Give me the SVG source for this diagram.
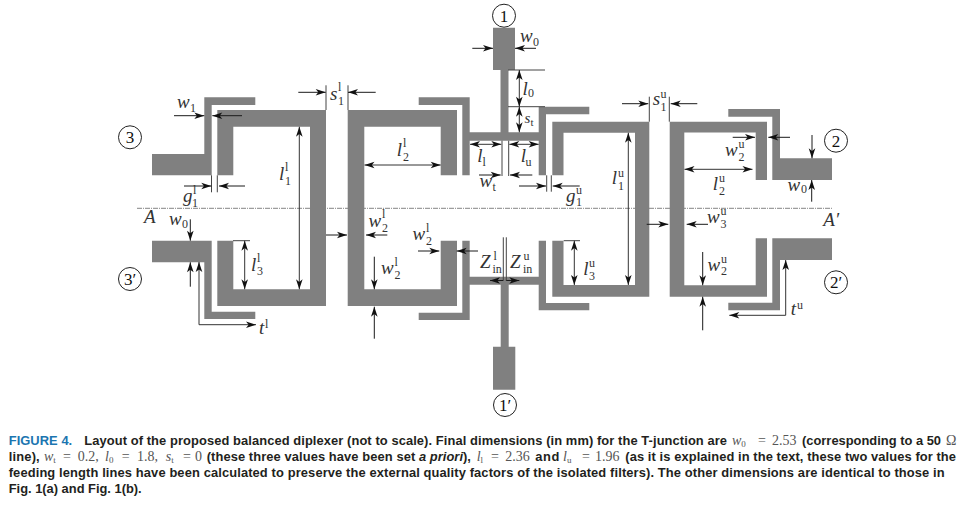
<svg xmlns="http://www.w3.org/2000/svg" width="964" height="505" viewBox="0 0 964 505">
<style>
.s{fill:#808080}
.c{fill:#fff;stroke:#222;stroke-width:1}
.n{font:17px "Liberation Serif",serif;fill:#111;text-anchor:middle}
.a{stroke:#1a1a1a;stroke-width:1;fill:none;marker-end:url(#ah)}
.d{stroke:#333;stroke-width:1;fill:none;marker-start:url(#ah);marker-end:url(#ah)}
.t{stroke:#444;stroke-width:1;fill:none}
.cl{stroke:#666;stroke-width:.8;stroke-dasharray:5 1 1 1;fill:none}
.m{font:italic 19px "Liberation Serif",serif;fill:#333}
.r{font:normal 12px "Liberation Serif",serif;fill:#333}
.cap{font:bold 12.9px "Liberation Sans",Arial,sans-serif;fill:#231f20}
.capi{font:italic bold 12.9px "Liberation Sans",Arial,sans-serif;fill:#231f20}
.fig{font:bold 12.9px "Liberation Sans",Arial,sans-serif;fill:#1b75b0}
.e{font:italic 14px "Liberation Serif",serif;fill:#555}
.er{font:normal 14px "Liberation Serif",serif;fill:#555}
.es{font:normal 9px "Liberation Serif",serif;fill:#555}
</style>
<defs>
<marker id="ah" markerUnits="userSpaceOnUse" viewBox="-1 -4 12 8" refX="10" refY="0" markerWidth="12" markerHeight="8" orient="auto-start-reverse"><path d="M10,0 L0,-3.3 L2.6,0 L0,3.3 Z" fill="#111"/></marker>
</defs>
<g id="centre-line"><line class="cl" x1="137" y1="208.3" x2="833" y2="208.3"/></g>
<g id="feed-3"><path class="s" d="M152,154H204.3V97.3H255.3V105H211.7V175.3H152Z"/></g>
<g id="feed-3p"><path class="s" d="M152,240.7H211.7V311.7H255.3V319H204.3V262.3H152Z"/></g>
<g id="filter-l-left"><path class="s" d="M217.3,175.3V110H326V306H217.3V240.7H233.3V289.3H310V126.7H233.3V175.3Z"/></g>
<g id="filter-l-right"><path class="s" d="M457,175.3V110H347.7V306H457V240.7H440.7V289.3H364.3V126.7H440.7V175.3Z"/></g>
<g id="t-junction-upper"><path class="s" d="M493,27.7H515V70H508.5V132.3H538.7V106.7H589.3V114.3H546V175.3H538.7V140.7H469.7V175.3H462.3V105H418.7V97.3H469.7V132.3H500.5V70H493Z"/></g>
<g id="t-junction-lower"><path class="s" d="M462.3,240.7H469.7V276.7H538.7V240.7H546V303H589.3V310.3H538.7V284.7H508.7V346.7H515.3V389.7H493V346.7H500.7V284.7H469.7V320H418.7V312.7H462.3Z"/></g>
<g id="filter-u-left"><path class="s" d="M552.3,175.3V121.7H649.3V296.7H552.3V240.7H563.5V285H635V132.7H563.5V175.3Z"/></g>
<g id="filter-u-right"><path class="s" d="M767,180V121.7H669.7V296.7H767V238.3H755.7V285.3H684.3V132.5H755.7V180Z"/></g>
<g id="feed-2"><path class="s" d="M728.3,109H780V158.3H832V180H772.3V116.7H728.3Z"/></g>
<g id="feed-2p"><path class="s" d="M772.3,238.3H832V260H780V310.3H728.3V302.7H772.3Z"/></g>
<g id="port-1"><circle class="c" cx="504" cy="15.7" r="11.5"/><text class="n" x="504" y="21.5">1</text></g>
<g id="port-1p"><circle class="c" cx="505" cy="405" r="11.5"/><text class="n" x="505" y="410.8">1′</text></g>
<g id="port-2"><circle class="c" cx="836" cy="140.7" r="11.5"/><text class="n" x="836" y="146.5">2</text></g>
<g id="port-2p"><circle class="c" cx="836" cy="282.3" r="11.5"/><text class="n" x="836" y="288">2′</text></g>
<g id="port-3"><circle class="c" cx="130" cy="137.3" r="11.5"/><text class="n" x="130" y="143">3</text></g>
<g id="port-3p"><circle class="c" cx="130" cy="279" r="11.5"/><text class="n" x="130" y="284.8">3′</text></g>
<g id="connectors">
<line class="t" x1="326" y1="85.3" x2="326" y2="110"/><line class="t" x1="348" y1="85.3" x2="348" y2="110"/>
<line class="t" x1="211.5" y1="175.3" x2="211.5" y2="192.3"/><line class="t" x1="217.3" y1="175.3" x2="217.3" y2="192.3"/>
<line class="t" x1="233" y1="240.7" x2="250" y2="240.7"/>
<line class="t" x1="502" y1="140.7" x2="502" y2="176"/><line class="t" x1="508.7" y1="140.7" x2="508.7" y2="176"/>
<line class="t" x1="508" y1="70" x2="545" y2="70"/><line class="t" x1="508" y1="106.7" x2="545" y2="106.7"/>
<line class="t" x1="546.7" y1="175.3" x2="546.7" y2="191.7"/><line class="t" x1="551.3" y1="175.3" x2="551.3" y2="191.7"/>
<line class="t" x1="503.3" y1="237.3" x2="503.3" y2="281"/><line class="t" x1="506.3" y1="237.3" x2="506.3" y2="281"/>
<line class="t" x1="563.7" y1="240.7" x2="580" y2="240.7"/>
<line class="t" x1="649.3" y1="96.7" x2="649.3" y2="121.7"/><line class="t" x1="669.3" y1="96.7" x2="669.3" y2="121.7"/>
<line class="a" x1="174" y1="115.7" x2="204.3" y2="115.7"/><line class="a" x1="242" y1="115.7" x2="212.3" y2="115.7"/>
<line class="a" x1="298.3" y1="92.3" x2="325.7" y2="92.3"/><line class="a" x1="375.7" y1="92.3" x2="348" y2="92.3"/>
<line class="d" x1="299.3" y1="126.7" x2="299.3" y2="289.3"/>
<line class="a" x1="184" y1="186" x2="211.3" y2="186"/><line class="a" x1="245" y1="186" x2="219" y2="186"/>
<line class="a" x1="190.3" y1="219.3" x2="190.3" y2="240.7"/><line class="a" x1="190.3" y1="286.7" x2="190.3" y2="262.3"/>
<polyline class="d" points="199,262 199,324.7 256,324.7"/>
<line class="d" x1="244.7" y1="240.7" x2="244.7" y2="289.3"/>
<line class="a" x1="326" y1="235" x2="347" y2="235"/><line class="a" x1="387.3" y1="235" x2="366" y2="235"/>
<line class="a" x1="374.3" y1="256.7" x2="374.3" y2="289.3"/><line class="a" x1="374.3" y1="338.7" x2="374.3" y2="306.7"/>
<line class="d" x1="364.5" y1="165" x2="440.7" y2="165"/>
<line class="a" x1="418" y1="251" x2="439.3" y2="251"/><line class="a" x1="478" y1="251" x2="456.7" y2="251"/>
<line class="d" x1="470" y1="144.3" x2="501.3" y2="144.3"/><line class="d" x1="509.3" y1="144.3" x2="538.7" y2="144.3"/>
<line class="a" x1="479" y1="175" x2="500.7" y2="175"/><line class="a" x1="532.3" y1="175" x2="510" y2="175"/>
<line class="d" x1="519.3" y1="70" x2="519.3" y2="106.7"/><line class="d" x1="519.3" y1="106.7" x2="519.3" y2="132.3"/>
<line class="a" x1="472.3" y1="48.3" x2="493" y2="48.3"/><line class="a" x1="536" y1="48.3" x2="515" y2="48.3"/>
<line class="a" x1="519" y1="186" x2="546" y2="186"/><line class="a" x1="579.7" y1="186" x2="552.7" y2="186"/>
<line class="a" x1="503" y1="280.5" x2="490" y2="280.5"/><line class="a" x1="506.3" y1="280.5" x2="519.3" y2="280.5"/>
<line class="d" x1="574.3" y1="240.7" x2="574.3" y2="285"/>
<line class="d" x1="628.3" y1="132.7" x2="628.3" y2="285"/>
<line class="a" x1="622" y1="103.7" x2="648.3" y2="103.7"/><line class="a" x1="697.3" y1="103.7" x2="670.7" y2="103.7"/>
<line class="d" x1="684.5" y1="169.3" x2="752.5" y2="169.3"/>
<line class="a" x1="732.7" y1="137.3" x2="755" y2="137.3"/><line class="a" x1="790" y1="137.3" x2="768.3" y2="137.3"/>
<line class="a" x1="646.7" y1="224.3" x2="668.3" y2="224.3"/><line class="a" x1="708" y1="224.3" x2="686.7" y2="224.3"/>
<line class="a" x1="702.7" y1="252" x2="702.7" y2="285.3"/><line class="a" x1="702.7" y1="330.3" x2="702.7" y2="296.7"/>
<line class="a" x1="812" y1="135" x2="812" y2="158.3"/><line class="a" x1="811.7" y1="201.7" x2="811.7" y2="180"/>
<polyline class="d" points="785.7,260 785.7,315.3 729.3,315.3"/>
</g>
<g id="labels">
<text class="m" x="177" y="108.3">w<tspan class="r" x="190" y="111.5">1</tspan></text>
<text class="m" x="330" y="100">s<tspan class="r" x="338" y="91">l</tspan><tspan class="r" x="338" y="105">1</tspan></text>
<text class="m" x="279" y="180">l<tspan class="r" x="285" y="170.5">l</tspan><tspan class="r" x="285" y="184.5">1</tspan></text>
<text class="m" x="183" y="201.7">g<tspan class="r" x="193" y="194">l</tspan><tspan class="r" x="192" y="207">1</tspan></text>
<text class="m" x="144" y="222.7">A</text>
<text class="m" x="169" y="225.3">w<tspan class="r" x="182" y="228">0</tspan></text>
<text class="m" x="251" y="270.7">l<tspan class="r" x="257" y="262">l</tspan><tspan class="r" x="257" y="275">3</tspan></text>
<text class="m" x="259" y="334">t<tspan class="r" x="265" y="328">l</tspan></text>
<text class="m" x="396.7" y="156">l<tspan class="r" x="403" y="146.5">l</tspan><tspan class="r" x="403" y="160.5">2</tspan></text>
<text class="m" x="477.3" y="162.3">l<tspan class="r" x="482.5" y="165.5">l</tspan></text>
<text class="m" x="520.7" y="162.3">l<tspan class="r" x="525.5" y="165.5">u</tspan></text>
<text class="m" x="479.5" y="187.3">w<tspan class="r" x="492.5" y="190.5">t</tspan></text>
<text class="m" x="522.5" y="95">l<tspan class="r" x="528" y="97">0</tspan></text>
<text class="m" x="524.5" y="123.3" style="font-size:15px">s<tspan class="r" x="530.5" y="125.5" style="font-size:11px">t</tspan></text>
<text class="m" x="520" y="42.3">w<tspan class="r" x="533" y="46">0</tspan></text>
<text class="m" x="566" y="201.7">g<tspan class="r" x="576" y="193.5">u</tspan><tspan class="r" x="576" y="206">1</tspan></text>
<text class="m" x="368.5" y="227.3">w<tspan class="r" x="382" y="218">l</tspan><tspan class="r" x="382" y="231.5">2</tspan></text>
<text class="m" x="412.5" y="240">w<tspan class="r" x="426" y="232">l</tspan><tspan class="r" x="426" y="245">2</tspan></text>
<text class="m" x="381" y="274">w<tspan class="r" x="394.5" y="265.5">l</tspan><tspan class="r" x="394.5" y="279">2</tspan></text>
<text class="m" x="480" y="267.7">Z<tspan class="r" x="493.5" y="259.5">l</tspan><tspan class="r" x="492.5" y="272.5">in</tspan></text>
<text class="m" x="510" y="267.7">Z<tspan class="r" x="523.5" y="259.5">u</tspan><tspan class="r" x="523" y="272.5">in</tspan></text>
<text class="m" x="611.7" y="184.3">l<tspan class="r" x="618" y="177">u</tspan><tspan class="r" x="618" y="189.5">1</tspan></text>
<text class="m" x="652.7" y="105.3">s<tspan class="r" x="660.5" y="98">u</tspan><tspan class="r" x="660.5" y="110.5">1</tspan></text>
<text class="m" x="712.7" y="190">l<tspan class="r" x="719" y="181.5">u</tspan><tspan class="r" x="719" y="194.5">2</tspan></text>
<text class="m" x="725" y="155.7">w<tspan class="r" x="738.5" y="147.5">u</tspan><tspan class="r" x="738.5" y="161">2</tspan></text>
<text class="m" x="707" y="223.3">w<tspan class="r" x="720.5" y="215">u</tspan><tspan class="r" x="720.5" y="228">3</tspan></text>
<text class="m" x="707.5" y="270.7">w<tspan class="r" x="721" y="262.5">u</tspan><tspan class="r" x="721" y="275">2</tspan></text>
<text class="m" x="583.3" y="275">l<tspan class="r" x="589" y="266.5">u</tspan><tspan class="r" x="589" y="279.5">3</tspan></text>
<text class="m" x="787.5" y="190.7">w<tspan class="r" x="801" y="193">0</tspan></text>
<text class="m" x="823.3" y="226">A′</text>
<text class="m" x="790.7" y="315">t<tspan class="r" x="797" y="309">u</tspan></text>
</g>
<g id="caption">
<text class="fig" x="8.7" y="445" textLength="63.5">FIGURE 4.</text>
<text class="cap" x="84.3" y="445" textLength="642.7">Layout of the proposed balanced diplexer (not to scale). Final dimensions (in mm) for the T-junction are</text>
<text class="e" x="732" y="445">w<tspan class="es" dy="2">0</tspan><tspan class="er" x="758" y="445">=</tspan><tspan class="er" x="772" y="445">2.53</tspan></text>
<text class="cap" x="802" y="445" textLength="139">(corresponding to a 50</text>
<text class="er" x="946" y="445">Ω</text>
<text class="cap" x="8.7" y="461" textLength="31">line),</text>
<text class="e" x="44" y="461">w<tspan class="es" dy="2">t</tspan><tspan class="er" x="63" y="461">=</tspan><tspan class="er" x="77.7" y="461">0.2,</tspan><tspan x="105" y="461">l</tspan><tspan class="es" dy="2">0</tspan><tspan class="er" x="121.7" y="461">=</tspan><tspan class="er" x="137" y="461">1.8,</tspan><tspan x="165.7" y="461">s</tspan><tspan class="es" dy="2">t</tspan><tspan class="er" x="183" y="461">=</tspan><tspan class="er" x="195" y="461">0</tspan></text>
<text class="cap" x="206.7" y="461" textLength="208.5">(these three values have been set</text>
<text class="capi" x="419" y="461" textLength="44">a priori</text>
<text class="cap" x="463" y="461">),</text>
<text class="e" x="476.7" y="461">l<tspan class="es" dy="2">l</tspan><tspan class="er" x="491" y="461">=</tspan><tspan class="er" x="505.3" y="461">2.36</tspan></text>
<text class="cap" x="535.3" y="461" textLength="24">and</text>
<text class="e" x="563" y="461">l<tspan class="es" dy="2">u</tspan><tspan class="er" x="582" y="461">=</tspan><tspan class="er" x="595" y="461">1.96</tspan></text>
<text class="cap" x="625.3" y="461" textLength="330.7">(as it is explained in the text, these two values for the</text>
<text class="cap" x="8.7" y="476.7" textLength="936">feeding length lines have been calculated to preserve the external quality factors of the isolated filters). The other dimensions are identical to those in</text>
<text class="cap" x="8.7" y="492.7" textLength="133">Fig. 1(a) and Fig. 1(b).</text>
</g>
</svg>
